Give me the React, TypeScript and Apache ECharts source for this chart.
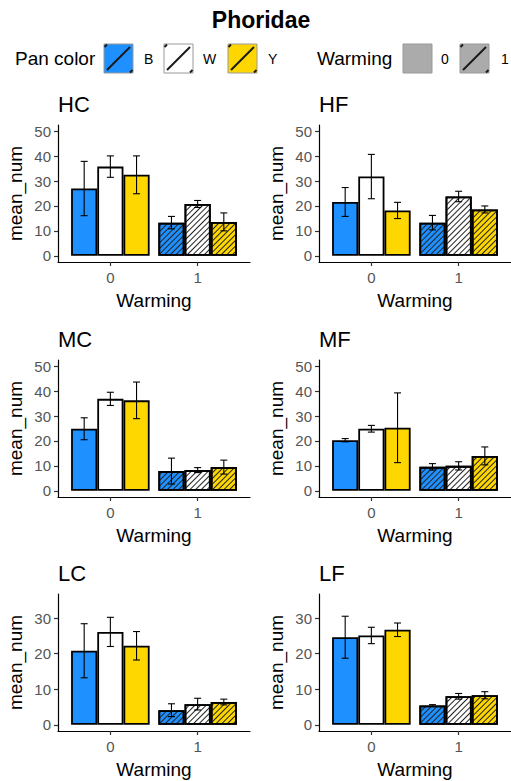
import React, { useEffect, useRef } from 'react';
import * as echarts from 'echarts';

// ---- data ----
const chartTitle = 'Phoridae';
const panelNames = ['HC', 'HF', 'MC', 'MF', 'LC', 'LF'];
const panColors = ['B', 'W', 'Y'];
const warmingLevels = [0, 1];
// mean_num per panel: [warming 0, warming 1]
const meanB = [[27.0, 13.3], [21.6, 13.3], [24.9, 7.9], [20.3, 9.6], [20.8, 4.1], [24.6, 5.4]];
const meanW = [[35.8, 20.8], [31.8, 23.8], [36.9, 8.3], [24.9, 10.0], [26.1, 5.8], [25.1, 8.0]];
const meanY = [[32.5, 13.6], [18.2, 18.6], [36.3, 9.5], [25.3, 14.0], [22.2, 6.4], [26.7, 8.3]];
// error bar half widths
const errB = [[10.9, 2.5], [5.8, 2.9], [4.4, 5.2], [0.65, 1.3], [7.6, 1.8], [5.9, 0.25]];
const errW = [[4.3, 1.4], [8.9, 2.1], [2.65, 1.0], [1.35, 1.65], [4.1, 1.65], [2.3, 0.8]];
const errY = [[7.6, 3.6], [3.25, 1.4], [7.35, 2.8], [14.0, 3.6], [4.0, 0.8], [1.9, 1.0]];
const yLimits = [50, 50, 50, 50, 35, 35];
const yTicksTall = [0, 10, 20, 30, 40, 50];
const yTicksShort = [0, 10, 20, 30];
const xTicks = [0, 1];

// ---- styling ----
const FONT = '"Liberation Sans", Arial, sans-serif';
const fills = ['#1E90FF', '#FFFFFF', '#FFD700'];
const warmFill = '#ABABAB';
const colLeft = [58, 319];
const rowTop = [125, 360, 594];
const gridW = 192;
const gridH = 137;
const xMin = -0.6;
const xMax = 1.6;
const barUnits = 0.3;
const barPx = (gridW / (xMax - xMin)) * barUnits;

const hatch = {
  symbol: 'rect',
  symbolSize: 1,
  dashArrayX: [1, 0],
  dashArrayY: [1, 3],
  rotation: -Math.PI / 4,
  color: '#222',
};

export default function App() {
  const ref = useRef<HTMLDivElement>(null);

  useEffect(() => {
    if (!ref.current) return;
    const chart = echarts.init(ref.current, undefined, { renderer: 'svg' });
    const means = [meanB, meanW, meanY];
    const errs = [errB, errW, errY];

    const grids: any[] = [];
    const xAxes: any[] = [];
    const yAxes: any[] = [];
    const series: any[] = [];
    const graphics: any[] = [];

    panelNames.forEach((name, i) => {
      const col = i % 2;
      const row = Math.floor(i / 2);
      const lim = yLimits[i];
      const ticks = lim > 40 ? yTicksTall : yTicksShort;
      grids.push({ left: colLeft[col], top: rowTop[row], width: gridW, height: gridH });
      xAxes.push({
        type: 'value',
        gridIndex: i,
        min: xMin,
        max: xMax,
        axisLine: { show: true, onZero: false, lineStyle: { color: '#000', width: 1.2 } },
        axisTick: { show: true, customValues: xTicks, length: 4, lineStyle: { color: '#333', width: 1.2 } },
        axisLabel: { customValues: xTicks, fontSize: 15, color: '#555', margin: 8, fontFamily: FONT, formatter: (v: number) => String(v) },
        splitLine: { show: false },
        name: 'Warming',
        nameLocation: 'middle',
        nameGap: 29,
        nameTextStyle: { fontSize: 19, color: '#000', fontFamily: FONT },
      });
      yAxes.push({
        type: 'value',
        gridIndex: i,
        min: -0.05 * lim,
        max: 1.05 * lim,
        axisLine: { show: true, onZero: false, lineStyle: { color: '#000', width: 1.2 } },
        axisTick: { show: true, customValues: ticks, length: 4, lineStyle: { color: '#333', width: 1.2 } },
        axisLabel: { customValues: ticks, fontSize: 15, color: '#555', margin: 7, fontFamily: FONT },
        splitLine: { show: false },
        name: 'mean_num',
        nameLocation: 'middle',
        nameGap: 33,
        nameRotate: 90,
        nameTextStyle: { fontSize: 19, color: '#000', fontFamily: FONT },
      });

      panColors.forEach((pc, c) => {
        series.push({
          type: 'bar',
          name: pc,
          xAxisIndex: i,
          yAxisIndex: i,
          barWidth: barPx,
          barGap: '0%',
          itemStyle: { color: fills[c], borderColor: '#000', borderWidth: 1.8 },
          data: warmingLevels.map((w, k) => {
            const item: any = { value: [w, means[c][i][k]] };
            if (w === 1) item.itemStyle = { decal: hatch };
            return item;
          }),
        });
      });

      const errData: number[][] = [];
      panColors.forEach((_pc, c) => {
        warmingLevels.forEach((w, k) => {
          const m = means[c][i][k];
          const e = errs[c][i][k];
          errData.push([w + (c - 1) * barUnits, m - e, m + e]);
        });
      });
      series.push({
        type: 'custom',
        xAxisIndex: i,
        yAxisIndex: i,
        z: 5,
        encode: { x: 0, y: [1, 2] },
        data: errData,
        renderItem: (_params: any, api: any) => {
          const x = api.value(0);
          const top = api.coord([x, api.value(2)]);
          const bot = api.coord([x, api.value(1)]);
          const cap = 3.5;
          const st = { stroke: '#000', lineWidth: 1.1 };
          return {
            type: 'group',
            children: [
              { type: 'line', shape: { x1: top[0], y1: top[1], x2: bot[0], y2: bot[1] }, style: st },
              { type: 'line', shape: { x1: top[0] - cap, y1: top[1], x2: top[0] + cap, y2: top[1] }, style: st },
              { type: 'line', shape: { x1: bot[0] - cap, y1: bot[1], x2: bot[0] + cap, y2: bot[1] }, style: st },
            ],
          };
        },
      });

      graphics.push({
        type: 'text',
        left: colLeft[col],
        top: rowTop[row] - 32,
        style: { text: name, fontSize: 22, fill: '#000', fontFamily: FONT },
      });
    });

    // main title
    graphics.push({
      type: 'text',
      x: 261,
      y: 20,
      style: { text: chartTitle, fontSize: 23, fontWeight: 'bold', fill: '#000', fontFamily: FONT, align: 'center', verticalAlign: 'middle' },
    });

    // legend
    const legY = 44;
    const box = 29;
    const keyGroup = (x: number, fill: string, striped: boolean) => {
      const ch: any[] = [
        { type: 'rect', shape: { x, y: legY, width: box, height: box }, style: { fill, stroke: '#999', lineWidth: 1 } },
      ];
      if (striped) {
        const s = { stroke: '#1a1a1a', lineWidth: 2 };
        ch.push({ type: 'line', shape: { x1: x + 3, y1: legY + box - 3, x2: x + box - 3, y2: legY + 3 }, style: s });
        ch.push({ type: 'line', shape: { x1: x + 0.5, y1: legY + 3, x2: x + 3, y2: legY + 0.5 }, style: s });
        ch.push({ type: 'line', shape: { x1: x + box - 3, y1: legY + box - 0.5, x2: x + box - 0.5, y2: legY + box - 3 }, style: s });
      }
      return { type: 'group', children: ch };
    };
    const legText = (x: number, text: string, size: number) => ({
      type: 'text',
      x,
      y: legY + box / 2,
      style: { text, fontSize: size, fill: '#000', fontFamily: FONT, verticalAlign: 'middle' },
    });
    graphics.push(legText(15, 'Pan color', 19));
    const panKeyX = [104, 164, 228];
    const panLabX = [144, 203, 268];
    panColors.forEach((pc, c) => {
      graphics.push(keyGroup(panKeyX[c], fills[c], true));
      graphics.push(legText(panLabX[c], pc, 14));
    });
    graphics.push(legText(317, 'Warming', 19));
    const warmKeyX = [403, 460];
    const warmLabX = [441, 501];
    warmingLevels.forEach((w, k) => {
      graphics.push(keyGroup(warmKeyX[k], warmFill, w === 1));
      graphics.push(legText(warmLabX[k], String(w), 14));
    });

    chart.setOption({
      animation: false,
      backgroundColor: '#fff',
      grid: grids,
      xAxis: xAxes,
      yAxis: yAxes,
      series,
      graphic: graphics,
    });
    return () => chart.dispose();
  }, []);

  return (
    <div
      ref={ref}
      style={{ position: 'fixed', left: 0, top: 0, width: 511, height: 781, background: '#fff' }}
    />
  );
}
